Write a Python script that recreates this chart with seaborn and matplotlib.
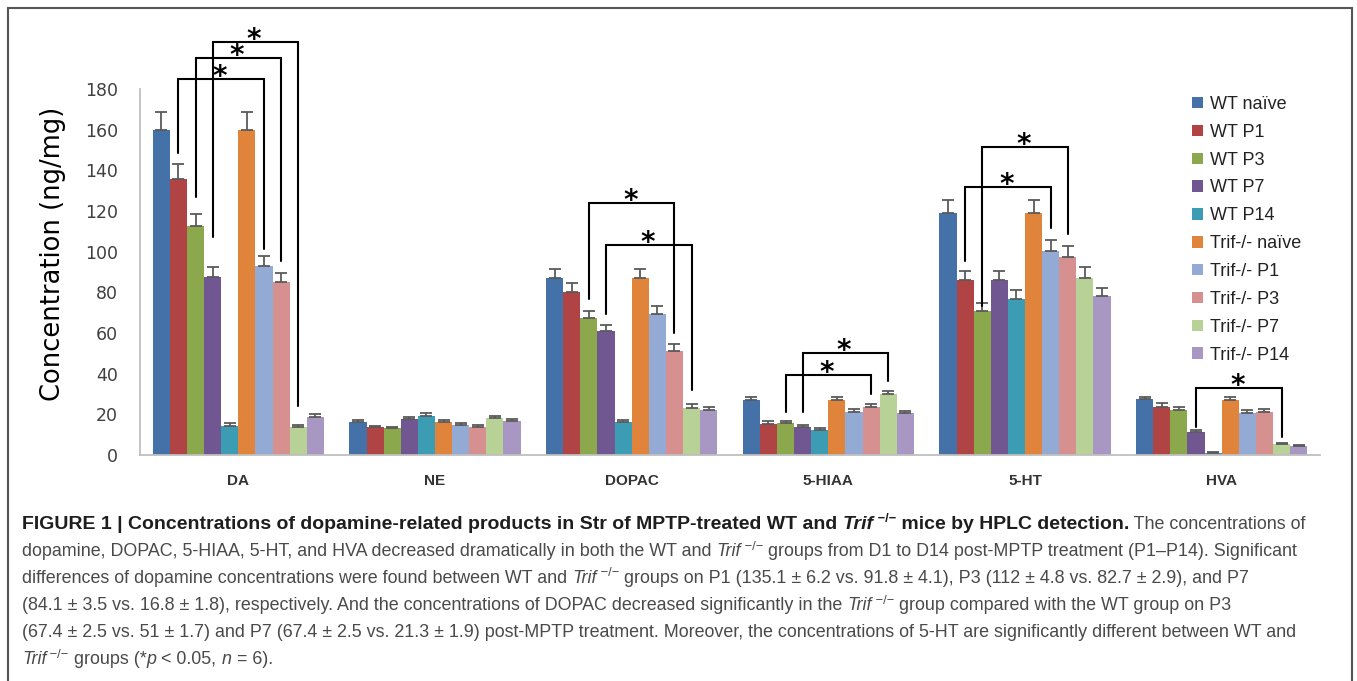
import numpy as np
import pandas as pd
import matplotlib
matplotlib.use("Agg")
import matplotlib.pyplot as plt
import seaborn as sns
from matplotlib.patches import Rectangle
from matplotlib.container import BarContainer

# ---------------- data ----------------
categories = ["DA", "NE", "DOPAC", "5-HIAA", "5-HT", "HVA"]
groups = ["WT naïve", "WT P1", "WT P3", "WT P7", "WT P14",
          "Trif-/- naïve", "Trif-/- P1", "Trif-/- P3", "Trif-/- P7", "Trif-/- P14"]

wt_naive = [160.0, 16.2, 87.2, 27.2, 118.9, 27.4]
wt_p1 = [135.9, 13.6, 80.3, 15.3, 86.1, 23.8]
wt_p3 = [112.5, 13.1, 67.5, 15.7, 70.6, 22.2]
wt_p7 = [87.6, 17.7, 61.0, 14.0, 86.1, 11.3]
wt_p14 = [14.3, 19.3, 16.1, 12.4, 76.7, 1.2]
trif_naive = [160.0, 16.2, 87.2, 27.2, 118.9, 27.2]
trif_p1 = [93.1, 14.6, 69.4, 21.3, 100.3, 20.9]
trif_p3 = [84.9, 13.9, 51.3, 23.4, 97.4, 21.2]
trif_p7 = [13.6, 18.0, 23.3, 29.8, 87.1, 5.2]
trif_p14 = [18.9, 16.6, 22.3, 20.5, 78.3, 4.5]

wt_naive_err = [8.5, 1.0, 4.5, 1.5, 6.5, 1.3]
wt_p1_err = [7.0, 0.9, 4.3, 1.3, 4.4, 1.6]
wt_p3_err = [6.0, 0.9, 3.5, 1.2, 4.1, 1.5]
wt_p7_err = [5.0, 1.0, 3.1, 1.0, 4.4, 0.8]
wt_p14_err = [1.3, 1.2, 1.1, 0.9, 4.5, 0.5]
trif_naive_err = [8.5, 1.0, 4.4, 1.5, 6.5, 1.5]
trif_p1_err = [4.8, 0.9, 3.9, 1.3, 5.3, 1.3]
trif_p3_err = [4.6, 0.9, 3.3, 1.5, 5.2, 1.5]
trif_p7_err = [1.2, 1.1, 1.8, 1.8, 5.6, 0.5]
trif_p14_err = [1.2, 1.0, 1.2, 1.2, 3.7, 0.5]

means = [wt_naive, wt_p1, wt_p3, wt_p7, wt_p14,
         trif_naive, trif_p1, trif_p3, trif_p7, trif_p14]
errs = [wt_naive_err, wt_p1_err, wt_p3_err, wt_p7_err, wt_p14_err,
        trif_naive_err, trif_p1_err, trif_p3_err, trif_p7_err, trif_p14_err]

# significance brackets: (category, left group, right group, top, left leg end, right leg end)
brackets = [
    ("DA", "WT P1", "Trif-/- P1", 184.8, 148.4, 101.2),
    ("DA", "WT P3", "Trif-/- P3", 195.1, 126.8, 95.6),
    ("DA", "WT P7", "Trif-/- P7", 203.0, 107.4, 24.1),
    ("DOPAC", "WT P3", "Trif-/- P3", 123.8, 76.6, 59.9),
    ("DOPAC", "WT P7", "Trif-/- P7", 103.3, 69.2, 32.0),
    ("5-HIAA", "WT P3", "Trif-/- P3", 39.2, 21.3, 30.0),
    ("5-HIAA", "WT P7", "Trif-/- P7", 50.2, 21.0, 36.4),
    ("5-HT", "WT P1", "Trif-/- P1", 131.7, 95.6, 111.8),
    ("5-HT", "WT P3", "Trif-/- P3", 151.3, 73.5, 108.7),
    ("HVA", "WT P7", "Trif-/- P7", 32.8, 13.9, 9.0),
]

colors = ["#4472a8", "#b04444", "#8ba94c", "#715792", "#3c9cb4",
          "#e0843c", "#93abd4", "#d69090", "#b8d196", "#a897c2"]

yticks = [0, 20, 40, 60, 80, 100, 120, 140, 160, 180]

rows = []
for g, m, e in zip(groups, means, errs):
    for c, v, ev in zip(categories, m, e):
        rows.append({"category": c, "group": g, "value": v, "err": ev})
df = pd.DataFrame(rows)

# ---------------- figure ----------------
W, H = 1357, 681
sns.set_style("white")
plt.rcParams["font.family"] = ["DejaVu Sans"]
fig = plt.figure(figsize=(W / 100, H / 100), dpi=100)
ax = fig.add_axes([140 / W, 1 - 455 / H, 1180 / W, 366 / H])

sns.barplot(data=df, x="category", y="value", hue="group", order=categories,
            hue_order=groups, palette=colors, errorbar=None, width=0.87,
            saturation=1, linewidth=0, ax=ax)

# error bars (upper only)
bar_containers = [c for c in ax.containers if isinstance(c, BarContainer)]
bar_x = {}
for gi, cont in enumerate(bar_containers):
    xs, ys, es = [], [], []
    for ci, p in enumerate(cont.patches):
        xc = p.get_x() + p.get_width() / 2
        bar_x[(categories[ci], groups[gi])] = xc
        xs.append(xc)
        ys.append(p.get_height())
        es.append(errs[gi][ci])
    ax.errorbar(xs, ys, yerr=[np.zeros(len(es)), es], fmt="none",
                ecolor="#5a5a5a", elinewidth=1.3, capsize=4, capthick=1.3, zorder=3)

# brackets
for cat, g1, g2, top, b1, b2 in brackets:
    x1, x2 = bar_x[(cat, g1)], bar_x[(cat, g2)]
    ax.plot([x1, x1, x2, x2], [b1, top, top, b2], color="black", lw=1.5,
            clip_on=False, zorder=5, solid_joinstyle="miter")
    fs = 20
    ax.annotate("*", xy=((x1 + x2) / 2, top), xytext=(-1, 7.5 - 0.59 * fs),
                textcoords="offset points", ha="center", va="baseline",
                fontsize=fs, fontweight="bold", color="black",
                annotation_clip=False, zorder=6)

# axes styling
gray = "#bfbfbf"
ax.set_ylim(0, 180)
ax.set_xlim(-0.5, len(categories) - 0.5)
ax.set_yticks(yticks)
ax.set_yticklabels([str(t) for t in yticks], fontsize=12.5, color="#404040")
for s in ["top", "right"]:
    ax.spines[s].set_visible(False)
for s in ["left", "bottom"]:
    ax.spines[s].set_color(gray)
    ax.spines[s].set_linewidth(1.3)
ax.tick_params(axis="y", which="major", length=5, width=1.3, color=gray,
               direction="out", pad=11)
ax.set_xticks(np.arange(-0.5, len(categories), 1.0), minor=True)
ax.tick_params(axis="x", which="minor", length=5, width=1.3, color=gray,
               direction="out")
ax.tick_params(axis="x", which="major", length=0, pad=14)
for lab in ax.get_xticklabels():
    lab.set_fontfamily("Liberation Sans")
    lab.set_fontweight("bold")
    lab.set_fontsize(11)
    lab.set_color("#333333")
ax.set_xlabel("")
ax.set_ylabel("Concentration (ng/mg)", fontsize=18.5, color="black",
              va="center", ha="center")
ax.yaxis.set_label_coords((53 - 140) / 1180, (455 - 254) / 366)

# legend
handles, labels = ax.get_legend_handles_labels()
if ax.get_legend() is not None:
    ax.get_legend().remove()
leg = fig.legend(handles, labels, loc="upper left",
                 bbox_to_anchor=(1192 / W, 1 - 96 / H), frameon=False,
                 prop={"family": "Liberation Sans", "size": 13},
                 handlelength=0.62, handleheight=0.6, handletextpad=0.35,
                 labelspacing=0.6, borderpad=0, borderaxespad=0)
for t in leg.get_texts():
    t.set_color("#222222")

# outer frame
fig.patches.append(Rectangle((7.5 / W, -0.05), (1351.5 - 7.5) / W, 1.05 - 8 / H,
                             transform=fig.transFigure, fill=False,
                             edgecolor="#555555", lw=1.5))

# ---------------- caption ----------------
renderer = fig.canvas.get_renderer()
CAP_FS = 12.9
BOLD_FS = 14.0
SUP = "\u2212/\u2212"


def props(style):
    kw = {"family": "Liberation Sans", "fontsize": CAP_FS, "color": "#4a4a4a"}
    if "b" in style:
        kw["fontweight"] = "bold"
        kw["color"] = "#1e1e1e"
        kw["fontsize"] = BOLD_FS
    if "i" in style:
        kw["fontstyle"] = "italic"
    if "s" in style:
        kw["fontsize"] = CAP_FS * 0.72
    return kw


def measure(text, kw):
    t1 = fig.text(0, 0, "|" + text + "|", **kw)
    t2 = fig.text(0, 0, "||", **kw)
    w = t1.get_window_extent(renderer).width - t2.get_window_extent(renderer).width
    t1.remove()
    t2.remove()
    return w


def draw_line(x0, ybase, runs):
    x = x0
    for text, style in runs:
        kw = props(style)
        dy = 6.5 if "s" in style else 0
        fig.text(x / W, 1 - (ybase - dy) / H, text, ha="left", va="baseline", **kw)
        x += measure(text, kw)


caption = [
    [("FIGURE 1 | Concentrations of dopamine-related products in Str of MPTP-treated WT and ", "b"),
     ("Trif", "bi"), (" " + SUP, "bs"), (" mice by HPLC detection.", "b"),
     (" The concentrations of", "")],
    [("dopamine, DOPAC, 5-HIAA, 5-HT, and HVA decreased dramatically in both the WT and ", ""),
     ("Trif", "i"), (" " + SUP, "s"),
     (" groups from D1 to D14 post-MPTP treatment (P1\u2013P14). Significant", "")],
    [("differences of dopamine concentrations were found between WT and ", ""),
     ("Trif", "i"), (" " + SUP, "s"),
     (" groups on P1 (135.1 \u00b1 6.2 vs. 91.8 \u00b1 4.1), P3 (112 \u00b1 4.8 vs. 82.7 \u00b1 2.9), and P7", "")],
    [("(84.1 \u00b1 3.5 vs. 16.8 \u00b1 1.8), respectively. And the concentrations of DOPAC decreased significantly in the ", ""),
     ("Trif", "i"), (" " + SUP, "s"),
     (" group compared with the WT group on P3", "")],
    [("(67.4 \u00b1 2.5 vs. 51 \u00b1 1.7) and P7 (67.4 \u00b1 2.5 vs. 21.3 \u00b1 1.9) post-MPTP treatment. Moreover, the concentrations of 5-HT are significantly different between WT and", "")],
    [("Trif", "i"), (" " + SUP, "s"), (" groups (*", ""), ("p", "i"), (" < 0.05, ", ""),
     ("n", "i"), (" = 6).", "")],
]
baselines = [529, 556, 583, 610, 637, 664]
for line, yb in zip(caption, baselines):
    draw_line(22, yb, line)

fig.savefig("out.png", dpi=100)
